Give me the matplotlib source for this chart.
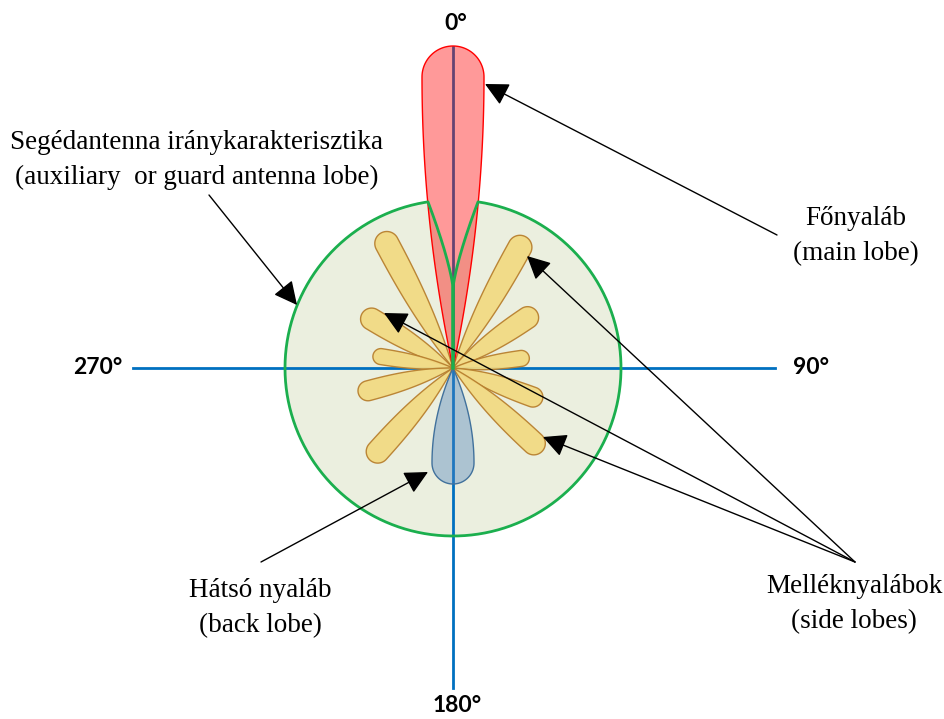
import numpy as np
import matplotlib.pyplot as plt
from matplotlib.patches import Polygon

# Adatok: nyalábok iránya (fok, északtól óramutató szerint), hossza és fél szélessége (px)
side_angles = [29, 332, 56, 301, 82, 279, 110, 255, 133, 222]
side_lengths = [150, 153, 101, 106, 77, 81, 95, 98, 122, 124]
side_halfwidths = [12, 12, 11, 11, 8, 8, 10, 10, 11.5, 11.5]

main_angle, main_length, main_halfwidth = 0, 322, 31
back_angle, back_length, back_halfwidth = 180, 116, 21

guard_radius = 168
notch_halfwidth = 25
notch_bottom = 88  # a bemetszés mélysége a kör tetejétől

axis_labels = ["0°", "90°", "180°", "270°"]

W, H = 944, 719
cx, cy = 453, 368


def lobe(angle, length, hw, k):
    """Csepp alakú nyaláb poligonja pixel koordinátákban."""
    th = np.radians(angle)
    d = np.array([np.sin(th), -np.cos(th)])
    p = np.array([np.cos(th), np.sin(th)])
    body = length - hw
    s = np.linspace(0, 1, 80)
    t = s * body
    w = hw * (1 - (1 - s) ** k)
    right = [(cx, cy) + ti * d + wi * p for ti, wi in zip(t, w)]
    phi = np.linspace(0, np.pi, 60)
    cap = [(cx, cy) + (body + hw * np.sin(a)) * d + hw * np.cos(a) * p for a in phi]
    left = [(cx, cy) + ti * d - wi * p for ti, wi in zip(t[::-1], w[::-1])]
    return np.array(right + cap + left)


fig = plt.figure(figsize=(W / 100, H / 100), dpi=100)
ax = fig.add_axes([0, 0, 1, 1])
ax.set_xlim(0, W)
ax.set_ylim(H, 0)
ax.axis("off")

# segédantenna (kör bemetszéssel)
top_y = cy - np.sqrt(guard_radius ** 2 - notch_halfwidth ** 2)
a0 = np.arcsin(notch_halfwidth / guard_radius)
u = np.linspace(0, 1, 50)
notch_x = notch_halfwidth * (1 - u) ** 1.3
notch_y = top_y + (cy - guard_radius + notch_bottom - top_y) * u
ang = np.linspace(a0, 2 * np.pi - a0, 300)
circ_x = cx + guard_radius * np.sin(ang)
circ_y = cy - guard_radius * np.cos(ang)
gx = np.concatenate([[cx], cx + notch_x[::-1], circ_x, cx - notch_x, [cx]])
gy = np.concatenate([[cy], notch_y[::-1], circ_y, notch_y, [cy]])
ax.fill(gx, gy, color="#EBEFDF", zorder=1)

# tengelyek
ax.plot([133, 775], [cy, cy], color="#0070C0", lw=2, zorder=2)
ax.plot([cx, cx], [47, 688], color="#0070C0", lw=2, zorder=2)

# melléknyalábok
for a, l, hw in zip(side_angles, side_lengths, side_halfwidths):
    ax.add_patch(Polygon(lobe(a, l, hw, 2.4), closed=True, facecolor="#F2DA83",
                         edgecolor="#B8802F", lw=1, alpha=0.95, zorder=3))

# hátsó nyaláb
ax.add_patch(Polygon(lobe(back_angle, back_length, back_halfwidth, 2.0), closed=True,
                     facecolor=(0.31, 0.51, 0.74, 0.4), edgecolor="#41719C", lw=1, zorder=4))

# főnyaláb
ax.add_patch(Polygon(lobe(main_angle, main_length, main_halfwidth, 2.0), closed=True,
                     facecolor=(1, 0, 0, 0.4), edgecolor="#FF0000", lw=1, zorder=5))

# segédantenna körvonala a tetején
ax.plot(gx, gy, color="#1BAF4E", lw=2, zorder=6)

# szögfeliratok
lab_font = dict(family="Lato", weight="bold", fontsize=16.5, ha="center", va="center")
ax.text(456, 23, axis_labels[0], **lab_font)
ax.text(811, 367, axis_labels[1], **lab_font)
ax.text(457, 706, axis_labels[2], **lab_font)
ax.text(98, 367, axis_labels[3], **lab_font)

# magyarázó szövegek és nyilak
txt = dict(family="Liberation Serif", fontsize=19.5, ha="center", va="center", linespacing=1.55)
ax.text(197, 160, "Segédantenna iránykarakterisztika\n(auxiliary  or guard antenna lobe)", **txt)
ax.text(856, 236, "Főnyaláb\n(main lobe)", **txt)
ax.text(260, 608, "Hátsó nyaláb\n(back lobe)", **txt)
ax.text(854, 604, "Melléknyalábok\n(side lobes)", **txt)

arrow = dict(arrowstyle="-|>,head_length=0.8,head_width=0.4", color="black", lw=1,
             shrinkA=0, shrinkB=0, mutation_scale=18)
pointers = [
    ((777, 235), (485, 84)),
    ((209, 195), (297, 305)),
    ((261, 562), (428, 472)),
    ((855, 562), (527, 256)),
    ((855, 562), (384, 313)),
    ((855, 562), (543, 437)),
]
for start, end in pointers:
    ax.annotate("", xy=end, xytext=start, arrowprops=arrow, zorder=7)

fig.savefig("out.png", dpi=100)
